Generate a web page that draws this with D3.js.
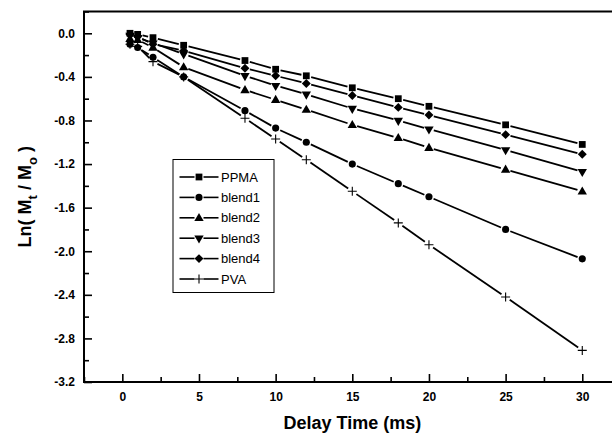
<!DOCTYPE html>
<html><head><meta charset="utf-8">
<script src="https://cdn.jsdelivr.net/npm/d3@7"></script>
<style>body{margin:0;background:#fff}svg{display:block}</style>
</head><body>
<svg id="chart" width="612" height="435"></svg>
<script>
// ---- data ----
const delayTimes = [0.5, 1, 2, 4, 8, 10, 12, 15, 18, 20, 25, 30];
const seriesNames = ["PPMA", "blend1", "blend2", "blend3", "blend4", "PVA"];
const ppmaValues   = [0.00, -0.01, -0.04, -0.11, -0.25, -0.33, -0.39, -0.50, -0.60, -0.67, -0.84, -1.02];
const blend1Values = [-0.10, -0.13, -0.22, -0.40, -0.71, -0.87, -1.00, -1.20, -1.38, -1.50, -1.80, -2.07];
const blend2Values = [-0.05, -0.06, -0.13, -0.31, -0.52, -0.61, -0.70, -0.84, -0.96, -1.05, -1.25, -1.45];
const blend3Values = [-0.02, -0.04, -0.09, -0.19, -0.39, -0.48, -0.56, -0.69, -0.80, -0.88, -1.07, -1.27];
const blend4Values = [-0.01, -0.03, -0.10, -0.16, -0.32, -0.39, -0.46, -0.57, -0.68, -0.75, -0.93, -1.11];
const pvaValues    = [-0.10, -0.12, -0.26, -0.40, -0.78, -0.97, -1.16, -1.45, -1.74, -1.94, -2.42, -2.91];
const xMajorTicks = [0, 5, 10, 15, 20, 25, 30];
const xMinorTicks = [-2.5, 2.5, 7.5, 12.5, 17.5, 22.5, 27.5];
const yMajorTicks = [0, -0.4, -0.8, -1.2, -1.6, -2.0, -2.4, -2.8, -3.2];
const yMinorTicks = [0.2, -0.2, -0.6, -1.0, -1.4, -1.8, -2.2, -2.6, -3.0];
const xTitle = "Delay Time (ms)";

const allValues = [ppmaValues, blend1Values, blend2Values, blend3Values, blend4Values, pvaValues];
const markerTypes = ["square", "circle", "triUp", "triDown", "diamond", "plus"];

// ---- layout ----
const L = 84, R = 620.6, T = 11.5, B = 382;
const FONT = "'Liberation Sans', Arial, Helvetica, sans-serif";
const svg = d3.select("#chart");
const x = d3.scaleLinear().domain([-2.5, 32.5]).range([L, R]);
const y = d3.scaleLinear().domain([-3.2, 0.2]).range([B, T]);

function markerPath(type) {
  switch (type) {
    case "square": return d3.symbol(d3.symbolSquare, 46)();
    case "circle": return d3.symbol(d3.symbolCircle, 40)();
    case "triUp": return d3.symbol(d3.symbolTriangle, 38)();
    case "triDown": return d3.symbol(d3.symbolTriangle, 38)();
    case "diamond": return d3.symbol(d3.symbolSquare, 40)();
    case "plus": return "M-4.5,0H4.5M0,-4.5V4.5";
  }
}
function markerTransform(type, px, py) {
  if (type === "triDown") return `translate(${px},${py}) rotate(180)`;
  if (type === "diamond") return `translate(${px},${py}) rotate(45)`;
  if (type === "triUp") return `translate(${px},${py + 0.5})`;
  return `translate(${px},${py})`;
}
function drawMarker(g, type, px, py) {
  const p = g.append("path").attr("d", markerPath(type)).attr("transform", markerTransform(type, px, py));
  if (type === "plus") p.attr("fill", "none").attr("stroke", "#000").attr("stroke-width", 1.1);
  else p.attr("fill", "#000");
}

// ---- series ----
const gap = 5;
allValues.forEach((vals, si) => {
  const g = svg.append("g");
  const pts = delayTimes.map((t, i) => [x(t), y(vals[i])]);
  for (let i = 0; i < pts.length - 1; i++) {
    const [x1, y1] = pts[i], [x2, y2] = pts[i + 1];
    const dx = x2 - x1, dy = y2 - y1, len = Math.hypot(dx, dy);
    if (len <= 2 * gap) continue;
    const ux = dx / len, uy = dy / len;
    g.append("line")
      .attr("x1", x1 + ux * gap).attr("y1", y1 + uy * gap)
      .attr("x2", x2 - ux * gap).attr("y2", y2 - uy * gap)
      .attr("stroke", "#000").attr("stroke-width", 1.8);
  }
  pts.forEach(([px, py]) => drawMarker(g, markerTypes[si], px, py));
});

// ---- axes frame ----
svg.append("rect").attr("x", L).attr("y", T).attr("width", R - L).attr("height", B - T)
  .attr("fill", "none").attr("stroke", "#000").attr("stroke-width", 2);

const gx = svg.append("g").attr("transform", `translate(0,${B})`);
gx.call(d3.axisBottom(x).tickValues(xMajorTicks).tickSize(-8).tickPadding(10).tickFormat(d3.format("d")));
const gxm = svg.append("g").attr("transform", `translate(0,${B})`);
gxm.call(d3.axisBottom(x).tickValues(xMinorTicks).tickSize(-5).tickFormat(""));
const gy = svg.append("g").attr("transform", `translate(${L},0)`);
gy.call(d3.axisLeft(y).tickValues(yMajorTicks).tickSize(-8).tickPadding(9).tickFormat(d3.format(".1f")));
const gym = svg.append("g").attr("transform", `translate(${L},0)`);
gym.call(d3.axisLeft(y).tickValues(yMinorTicks).tickSize(-5).tickFormat(""));
[gx, gxm, gy, gym].forEach(g => {
  g.select(".domain").remove();
  g.selectAll(".tick line").attr("stroke", "#000").attr("stroke-width", 1.6);
  g.selectAll("text").attr("font-family", FONT).attr("font-size", 12).attr("font-weight", "bold").attr("fill", "#000");
});
gy.selectAll("text").text(d => d3.format(".1f")(d).replace("−", "-"));

// ---- titles ----
svg.append("text").attr("x", (L + R) / 2).attr("y", 429).attr("text-anchor", "middle")
  .attr("font-family", FONT).attr("font-size", 18).attr("font-weight", "bold").text(xTitle);

const yt = svg.append("text").attr("transform", `translate(31,${(T + B) / 2}) rotate(-90)`)
  .attr("text-anchor", "middle").attr("font-family", FONT).attr("font-size", 18).attr("font-weight", "bold");
yt.append("tspan").text("Ln( M");
yt.append("tspan").attr("font-size", 13).attr("dy", 6).text("t");
yt.append("tspan").attr("dy", -6).text(" / M");
yt.append("tspan").attr("font-size", 13).attr("dy", 6).text("o");
yt.append("tspan").attr("dy", -6).text(" )");

// ---- legend ----
const lg = svg.append("g");
lg.append("rect").attr("x", 173).attr("y", 159.5).attr("width", 101).attr("height", 133)
  .attr("fill", "#fff").attr("stroke", "#000").attr("stroke-width", 1);
seriesNames.forEach((name, i) => {
  const ry = 177 + i * 20.4;
  const mx = 199;
  lg.append("line").attr("x1", 179.5).attr("x2", mx - 4.5).attr("y1", ry).attr("y2", ry).attr("stroke", "#000").attr("stroke-width", 1.6);
  lg.append("line").attr("x1", mx + 4.5).attr("x2", 218.5).attr("y1", ry).attr("y2", ry).attr("stroke", "#000").attr("stroke-width", 1.6);
  drawMarker(lg, markerTypes[i], mx, ry);
  lg.append("text").attr("x", 221).attr("y", ry + 4.6).attr("font-family", FONT).attr("font-size", 13).attr("fill", "#000").text(name);
});
</script>
</body></html>
